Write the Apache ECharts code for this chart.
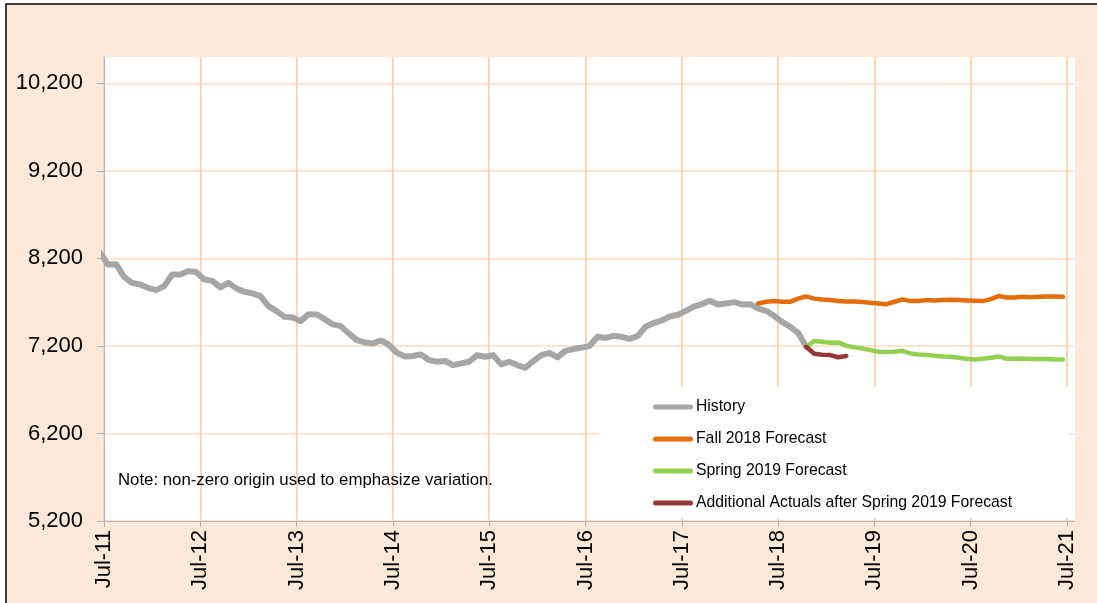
<!DOCTYPE html>
<html>
<head>
<meta charset="utf-8">
<script src="https://cdn.jsdelivr.net/npm/echarts@6/dist/echarts.min.js"></script>
<style>
html,body{margin:0;padding:0;background:#fff;}
#chart{width:1097px;height:603px;}
</style>
</head>
<body>
<div id="chart"></div>
<script>
// ---- data (monthly, month index 0 = Jul-11; points plotted at mid-month) ----
const xTickLabels = ['Jul-11','Jul-12','Jul-13','Jul-14','Jul-15','Jul-16','Jul-17','Jul-18','Jul-19','Jul-20','Jul-21'];
const yTicks = [5200, 6200, 7200, 8200, 9200, 10200];

const historyStart = -1; // Jun-11
const historyValues = [8265,8130,8134,7989,7920,7902,7863,7837,7883,8016,8016,8054,8043,7959,7943,7868,7920,7857,7818,7800,
  7769,7654,7597,7532,7525,7483,7563,7560,7506,7446,7426,7343,7266,7240,7229,7262,7213,7121,7080,7084,
  7103,7038,7019,7027,6981,7000,7019,7095,7076,7095,6989,7019,6981,6950,7027,7095,7121,7069,7144,7164,
  7180,7198,7304,7291,7315,7304,7280,7312,7422,7460,7490,7536,7556,7600,7650,7677,7715,7673,7685,7700,
  7673,7677,7628,7601,7544,7475,7418,7350,7190];

const fallStart = 81; // Apr-18
const fallValues = [7685,7704,7712,7704,7704,7740,7765,7740,7729,7725,7713,7706,7706,7702,7692,7685,7677,7704,7731,7712,
  7712,7723,7719,7723,7727,7723,7719,7715,7712,7734,7769,7754,7754,7761,7757,7761,7765,7765,7761];

const springStart = 87; // Oct-18
const springValues = [7190,7255,7247,7236,7240,7201,7183,7171,7152,7133,7129,7133,7144,7114,7103,7095,7087,7080,7076,7065,
  7053,7046,7053,7065,7080,7053,7053,7057,7050,7050,7050,7046,7046];

const actualsStart = 87; // Oct-18
const actualsValues = [7190,7110,7100,7095,7070,7085];

const seriesNames = ['History','Fall 2018 Forecast','Spring 2019 Forecast','Additional Actuals after Spring 2019 Forecast'];
const seriesColors = ['#A6A6A6','#E46C0A','#92D050','#953735'];
const noteText = 'Note: non-zero origin used to emphasize variation.';

function toPoints(start, values){
  return values.map((v,i)=>[start + i + 0.5, v]);
}
const seriesData = [
  toPoints(historyStart, historyValues),
  toPoints(fallStart, fallValues),
  toPoints(springStart, springValues),
  toPoints(actualsStart, actualsValues)
];
const lineWidths = [6, 4.5, 4.5, 4.5];

const FONT = 'Liberation Sans, Arial, sans-serif';
const capsule = 'path://M2.5,0 L37.5,0 A2.5,2.5 0 0 1 37.5,5 L2.5,5 A2.5,2.5 0 0 1 2.5,0 Z';

const chart = echarts.init(document.getElementById('chart'), null, {renderer:'canvas'});
chart.setOption({
  backgroundColor:'#ffffff',
  animation:false,
  textStyle:{fontFamily:FONT},
  graphic:[
    {type:'rect', z:-10, silent:true,
     shape:{x:6, y:4, width:1200, height:700},
     style:{fill:'#FDE9D9', stroke:'#000', lineWidth:1.5}},
    {type:'text', z:10, left:118, top:472, silent:true,
     style:{text:noteText, fill:'#000', font:'16.8px ' + FONT}}
  ],
  grid:{left:104, right:22, top:57, bottom:82, show:true, backgroundColor:'#ffffff', borderWidth:0},
  legend:{
    orient:'vertical', left:598, top:387,
    backgroundColor:'#ffffff',
    padding:[12,57,7,55],
    itemWidth:40, itemHeight:5, itemGap:16,
    icon:capsule,
    textStyle:{fontSize:15.75, color:'#000', fontFamily:FONT, lineHeight:16, padding:[0,0,0,-2]},
    data:seriesNames
  },
  xAxis:{
    type:'value', min:0, max:121, interval:12,
    axisLine:{lineStyle:{color:'#B3B3B3', width:1}},
    axisTick:{show:true, length:6, lineStyle:{color:'#B3B3B3'}, customValues:[0,12,24,36,48,60,72,84,96,108,120]},
    axisLabel:{rotate:90, margin:9, fontSize:22, color:'#000', fontFamily:FONT,
      customValues:[0,12,24,36,48,60,72,84,96,108,120],
      formatter:(v)=> xTickLabels[Math.round(v/12)] || ''},
    splitLine:{show:true, lineStyle:{color:'#FCD5B4', width:2}}
  },
  yAxis:{
    type:'value', min:5200, max:10500, interval:1000,
    axisLine:{show:true, lineStyle:{color:'#B3B3B3', width:1}},
    axisTick:{show:true, length:7, lineStyle:{color:'#B3B3B3'}, customValues:yTicks},
    axisLabel:{margin:21, fontSize:22, color:'#000', fontFamily:FONT, customValues:yTicks,
      formatter:(v)=> v.toLocaleString('en-US')},
    splitLine:{show:true, lineStyle:{color:'#FCE4D0', width:2}}
  },
  series: seriesNames.map((name,i)=>({
    name:name, type:'line', data:seriesData[i], showSymbol:false, symbol:'none',
    clip:true, z:2+i,
    lineStyle:{color:seriesColors[i], width:lineWidths[i], cap:'round', join:'round'},
    itemStyle:{color:seriesColors[i]}
  }))
});
</script>
</body>
</html>
